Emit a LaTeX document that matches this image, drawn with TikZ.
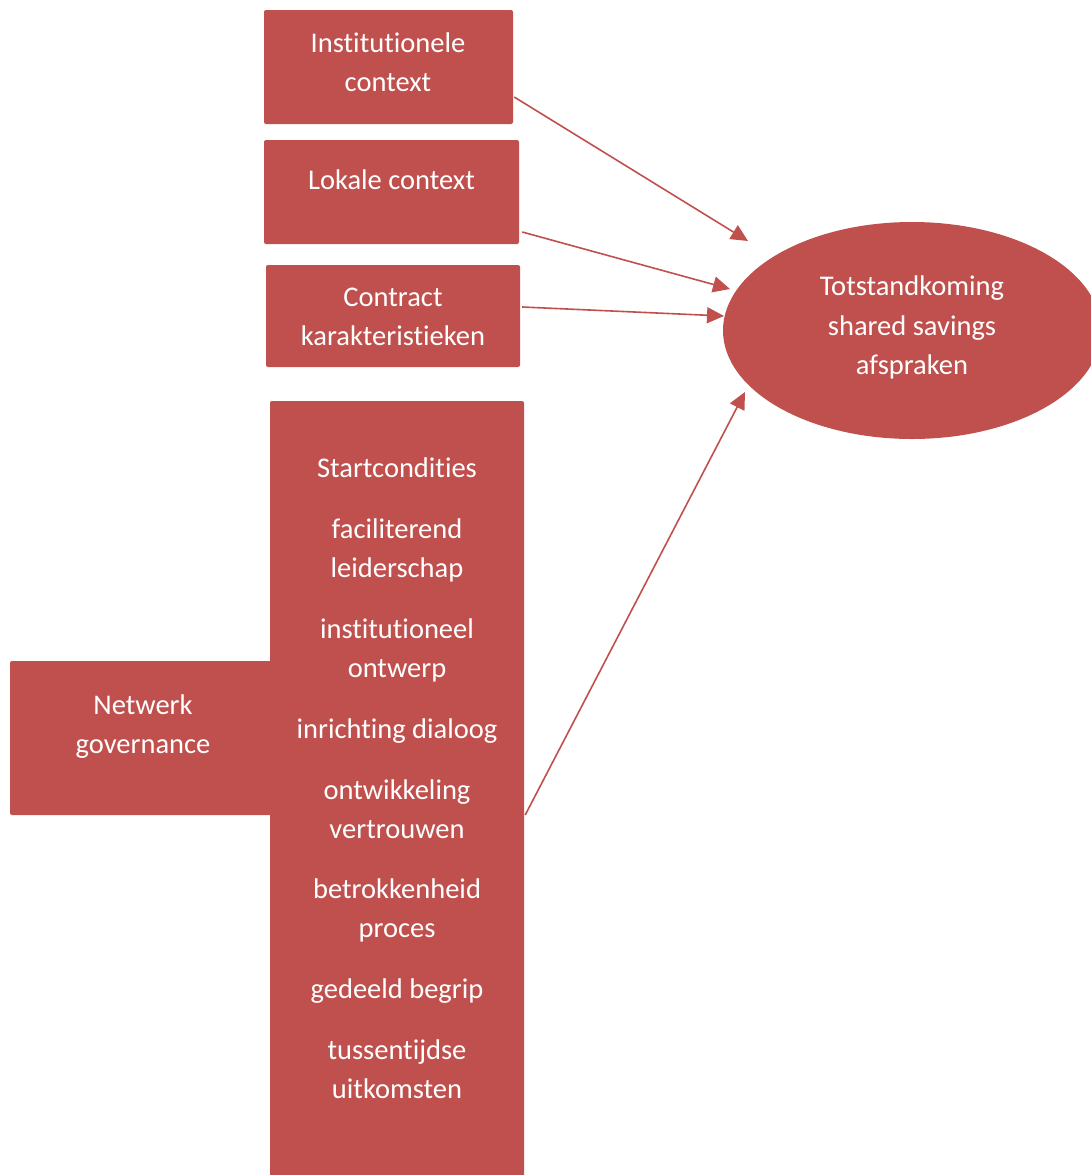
\documentclass[tikz,border=0pt]{standalone}
\usepackage{fontspec}
\setmainfont{Carlito}[Ligatures=NoCommon]
\usetikzlibrary{arrows.meta,shapes.geometric,calc}
\definecolor{accentred}{HTML}{C0504D}
\begin{document}
\begin{tikzpicture}[x=1pt,y=-1pt,
  block/.style={fill=accentred,draw=none,rounded corners=2pt,inner sep=0pt},
  label/.style={text=white,align=center,anchor=base,inner sep=0pt,
    font=\fontsize{28.5}{39.5}\selectfont},
  link/.style={draw=accentred,line width=1.6pt,-{Triangle[length=17pt,width=16pt]}}]
\useasboundingbox (0,0) rectangle (1090,1175);

% boxes
\node[block,minimum width=249pt,minimum height=114pt] (inst) at (388.5,67) {};
\node[block,minimum width=255pt,minimum height=104pt] (lok) at (391.5,192) {};
\node[block,minimum width=254pt,minimum height=102pt] (con) at (393,316) {};
\node[block,minimum width=270pt,minimum height=154pt] (net) at (145,738) {};
\node[block,minimum width=254pt,minimum height=780pt] (gov) at (397,791) {};
\node[ellipse,fill=accentred,draw=none,minimum width=378pt,minimum height=217pt,inner sep=0pt] (res) at (912,330.5) {};

% texts (placed by the baseline of their last line)
\node[label] (tinst) at (388,91.5) {Institutionele\\context};
\node[label] (tlok) at (391.5,189) {Lokale context};
\node[label] (tcon) at (393,345.5) {Contract\\karakteristieken};
\node[label] (tnet) at (143,753.5) {Netwerk\\governance};
\node[label] (tres) at (912,374.5) {Totstandkoming\\shared savings\\afspraken};
\node[label] (g1) at (397,477) {Startcondities};
\node[label] (g2) at (397,577.5) {faciliterend\\leiderschap};
\node[label] (g3) at (397,677.5) {institutioneel\\ontwerp};
\node[label] (g4) at (397,738) {inrichting dialoog};
\node[label] (g5) at (397,838.5) {ontwikkeling\\vertrouwen};
\node[label] (g6) at (397,937.5) {betrokkenheid\\proces};
\node[label] (g7) at (397,998) {gedeeld begrip};
\node[label] (g8) at (397,1098.5) {tussentijdse\\uitkomsten};

% arrow ends in front of the ellipse
\coordinate (e1) at (748,241);
\coordinate (e2) at (730,289);
\coordinate (e3) at (724,316);
\coordinate (e4) at (745,392);

\draw[link] ([xshift=1pt,yshift=-30pt]inst.east) -- (e1);
\draw[link] ([xshift=3pt,yshift=-40pt]lok.east) -- (e2);
\draw[link] ([xshift=2pt,yshift=9pt]con.east) -- (e3);
\draw[link] ([xshift=1pt,yshift=-24pt]gov.east) -- (e4);
\end{tikzpicture}
\end{document}
